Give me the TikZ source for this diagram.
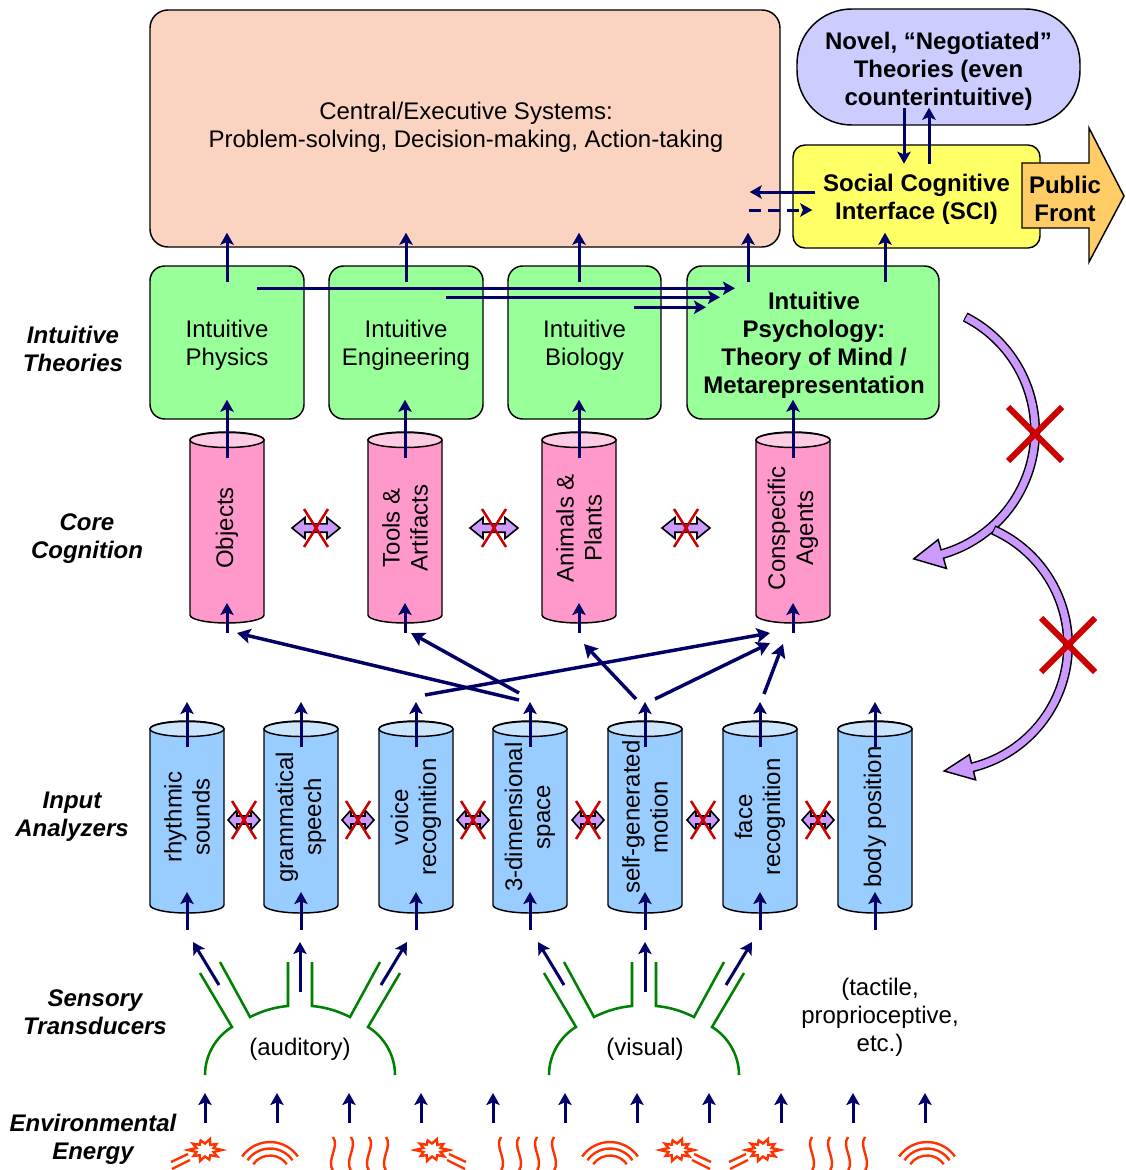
\documentclass[tikz,border=0pt]{standalone}
\usepackage{fontspec}
\setmainfont{Liberation Sans}
\usetikzlibrary{arrows.meta,calc}
\definecolor{navy}{RGB}{0,0,102}
\definecolor{peach}{RGB}{250,212,192}
\definecolor{novelc}{RGB}{204,204,255}
\definecolor{scic}{RGB}{255,255,102}
\definecolor{frontc}{RGB}{255,204,102}
\definecolor{greenc}{RGB}{153,255,153}
\definecolor{pinkc}{RGB}{255,153,204}
\definecolor{pinktop}{RGB}{255,204,229}
\definecolor{bluec}{RGB}{153,204,255}
\definecolor{bluetop}{RGB}{204,229,255}
\definecolor{lavc}{RGB}{204,153,255}
\definecolor{redx}{RGB}{204,0,0}
\definecolor{sensec}{RGB}{0,128,0}
\definecolor{energyc}{RGB}{255,51,0}

\newcommand\cylshape[5]{%
  \draw[line width=1.1pt, fill=#4] (#1-37,#2) -- (#1-37,#3) arc[start angle=180,end angle=0,x radius=37,y radius=8] -- (#1+37,#2) arc[start angle=0,end angle=-180,x radius=37,y radius=8] -- cycle;
  \draw[line width=1.1pt, fill=#5] (#1,#2) ellipse[x radius=37,y radius=7.5];}

\newcommand\nolink[5]{%
  \begin{scope}[shift={(#1,#2)}]
   \draw[line width=1.2pt, fill=lavc, line join=miter] (-#3,0) -- (-#3+#4,-#5) -- (-#3+#4,-0.4*#5) -- (#3-#4,-0.4*#5) -- (#3-#4,-#5) -- (#3,0) -- (#3-#4,#5) -- (#3-#4,0.4*#5) -- (-#3+#4,0.4*#5) -- (-#3+#4,#5) -- cycle;
   \draw[redx, line width=1.9pt] (-12,-19) -- (12,19) (-12,19) -- (12,-19);
  \end{scope}}

\newcommand\sensor[1]{%
  \draw[sense] (#1-95,1075) .. controls (#1-95,1054) and (#1-83,1036) .. (#1-68,1027) -- (#1-100,973);
  \draw[sense] (#1-80,962) -- (#1-50,1017) .. controls (#1-38,1011) and (#1-25,1007) .. (#1-12,1006) -- (#1-12,962);
  \draw[sense] (#1+80,962) -- (#1+50,1017) .. controls (#1+38,1011) and (#1+25,1007) .. (#1+12,1006) -- (#1+12,962);
  \draw[sense] (#1+95,1075) .. controls (#1+95,1054) and (#1+83,1036) .. (#1+68,1027) -- (#1+100,973);}

\newcommand\burst[3]{%
  \begin{scope}[shift={(#1,#2)}]
   \begin{scope}[yscale=0.72]
    \draw[energy, fill=white, line join=miter] (0:17) -- (18:9) -- (36:15) -- (54:9) -- (72:14) -- (90:9) -- (108:16) -- (126:9) -- (144:14) -- (162:9) -- (180:17) -- (198:9) -- (216:15) -- (234:9) -- (252:14) -- (270:9) -- (288:16) -- (306:9) -- (324:14) -- (342:9) -- cycle;
   \end{scope}
   \draw[energy] ({#3*17},4) -- ({#3*34},12) ({#3*15},10) -- ({#3*33},19);
  \end{scope}}

\newcommand\wavy[2]{%
  \draw[energy] (#1,1137) .. controls ({#1+#2},1147) and ({#1-#2},1159) .. (#1,1171);}

\newcommand\rays[1]{%
  \foreach \r in {34,27.5,20.5} \draw[energy] (#1,1176) ++(-145:\r) arc[start angle=-145,end angle=-35,radius=\r];}

\begin{document}
\begin{tikzpicture}[x=0.75pt,y=-0.75pt,
  lbl/.style={font=\fontsize{18}{21}\selectfont\bfseries\itshape, align=center, inner sep=0pt},
  txt/.style={font=\fontsize{18}{21}\selectfont, align=center, inner sep=0pt},
  btxt/.style={font=\fontsize{18}{21}\selectfont\bfseries, align=center, inner sep=0pt},
  gbox/.style={draw, line width=1.1pt, fill=greenc, rounded corners=11pt, minimum height=114.75pt, minimum width=#1},
  arr/.style={navy, line width=2.25pt, -{Stealth[length=9pt,width=10pt,inset=2pt]}},
  xarr/.style={navy, line width=2.6pt, -{Stealth[length=10pt,width=11pt,inset=2pt]}},
  sense/.style={sensec, line width=1.9pt},
  energy/.style={energyc, line width=1.8pt}]
\useasboundingbox (0,0) rectangle (1125,1170);

% ---- left labels
\node[lbl] (lt) at (73,349) {Intuitive\\Theories};
\node[lbl] (lc) at (87,539) {Core\\Cognition};
\node[lbl] (li) at (72,817) {Input\\Analyzers};
\node[lbl] (ls) at (95,1012) {Sensory\\Transducers};
\node[lbl] (le) at (93,1139) {Environmental\\Energy};

% ---- top boxes
\node[draw, line width=1.1pt, fill=peach, rounded corners=13.5pt, minimum width=472.5pt, minimum height=177.75pt] (central) at (465,128.5) {};
\node[txt] (centraltxt) at (466,127) {Central/Executive Systems:\\Problem-solving, Decision-making, Action-taking};
\node[draw, line width=1.1pt, fill=novelc, rounded corners=41pt, minimum width=212.25pt, minimum height=87pt] (novel) at (938.5,67) {};
\node[btxt] (noveltxt) at (938.5,71) {Novel, “Negotiated”\\Theories (even\\counterintuitive)};
\node[draw, line width=1.1pt, fill=scic, rounded corners=9pt, minimum width=185.25pt, minimum height=77.25pt] (sci) at (916.5,196.5) {};
\node[btxt] (scitxt) at (916.5,199.5) {Social Cognitive\\Interface (SCI)};
\draw[fill=frontc, line width=1.1pt, line join=miter] (1022,163) -- (1089,163) -- (1089,128) -- (1124,196) -- (1089,262) -- (1089,228) -- (1022,228) -- cycle;
\node[btxt] (front) at (1065,199) {Public\\Front};

% ---- intuitive theories
\node[gbox=115.5pt] (phys) at (227,342.5) {};
\node[gbox=115.5pt] (eng) at (406,342.5) {};
\node[gbox=114.75pt] (bio) at (584.5,342.5) {};
\node[gbox=189pt] (psych) at (813,342.5) {};
\node[txt] (physt) at (227,345.5) {Intuitive\\Physics};
\node[txt] (engt) at (406,345.5) {Intuitive\\Engineering};
\node[txt] (biot) at (584.5,345.5) {Intuitive\\Biology};
\node[btxt] (psycht) at (814,345.5) {Intuitive\\Psychology:\\Theory of Mind /\\Metarepresentation};

% ---- core cognition
\cylshape{227}{440}{615}{pinkc}{pinktop}
\cylshape{405}{440}{615}{pinkc}{pinktop}
\cylshape{579}{440}{615}{pinkc}{pinktop}
\cylshape{793}{440}{615}{pinkc}{pinktop}
\node[txt, rotate=90] (objects) at (227,528) {Objects};
\node[txt, rotate=90] (tools) at (405,528) {Tools \&\\Artifacts};
\node[txt, rotate=90] (animals) at (579,528) {Animals \&\\Plants};
\node[txt, rotate=90] (agents) at (793,528) {Conspecific\\Agents};
\nolink{316}{528}{24}{13}{10.5}
\nolink{494}{528}{24}{13}{10.5}
\nolink{686}{528}{24}{13}{10.5}

% ---- input analyzers
\cylshape{187}{729}{905}{bluec}{bluetop}
\cylshape{301}{729}{905}{bluec}{bluetop}
\cylshape{416}{729}{905}{bluec}{bluetop}
\cylshape{530}{729}{905}{bluec}{bluetop}
\cylshape{645}{729}{905}{bluec}{bluetop}
\cylshape{760}{729}{905}{bluec}{bluetop}
\cylshape{875}{729}{905}{bluec}{bluetop}
\node[txt, rotate=90] (rhythm) at (187,817) {rhythmic\\sounds};
\node[txt, rotate=90] (gram) at (301,817) {grammatical\\speech};
\node[txt, rotate=90] (voice) at (416,817) {voice\\recognition};
\node[txt, rotate=90] (space) at (530,817) {3-dimensional\\space};
\node[txt, rotate=90] (selfmot) at (645,817) {self-generated\\motion};
\node[txt, rotate=90] (face) at (760,817) {face\\recognition};
\node[txt, rotate=90] (body) at (875,817) {body position};
\foreach \xx in {244,358,473,588,703,818} {\nolink{\xx}{820}{16}{9}{10}}

% ---- sensory transducers
\sensor{300}
\sensor{644}
\node[txt] (aud) at (300,1049) {(auditory)};
\node[txt] (vis) at (645,1049) {(visual)};
\node[txt] (tact) at (880,1017) {(tactile,\\proprioceptive,\\etc.)};

% ---- arrows: theories to central / SCI
\foreach \n in {phys,eng} {\draw[arr] ($(\n.north)+(0,17)$) -- ($(\n.north |- central.south)+(0,-15)$);}
\draw[arr] ($(animals |- bio.north)+(0,17)$) -- ($(animals |- central.south)+(0,-15)$);
\draw[arr] ($(psych.north)+(-65,17)$) -- ($(psych.north |- central.south)+(-65,-15)$);
\draw[arr] ($(psych.north)+(72,17)$) -- ($(psych.north |- sci.south)+(72,-16)$);
\draw[arr] ($(phys.north)+(30,23)$) -- ($(psych.north)+(-78,23)$);
\draw[arr] ($(eng.north)+(40,32)$) -- ($(psych.north)+(-93,32)$);
\draw[arr] ($(bio.north)+(49.5,42)$) -- ($(psych.north)+(-107,42)$);
% SCI links
\draw[arr] ($(sci.west)+(23,-4.5)$) -- ($(central.east |- sci.west)+(-31,-4.5)$);
\draw[arr, dash pattern=on 9pt off 5.5pt] ($(central.east |- sci.west)+(-32,13.5)$) -- ($(sci.west)+(20,13.5)$);
\draw[arr] ($(novel.south)+(-34.5,-18)$) -- ($(novel.south)+(-34.5,38)$);
\draw[arr] ($(novel.south)+(-9.5,38)$) -- ($(novel.south)+(-9.5,-18)$);

% ---- core to theories, and into core
\draw[arr] ($(objects)+(0,-70)$) -- ($(objects |- phys.south)+(0,-20)$);
\draw[arr] ($(tools)+(0,-70)$) -- ($(tools |- eng.south)+(0,-20)$);
\draw[arr] ($(animals)+(0,-70)$) -- ($(animals |- bio.south)+(0,-20)$);
\draw[arr] ($(agents)+(0,-70)$) -- ($(agents |- psych.south)+(0,-20)$);
\foreach \n in {objects,tools,animals,agents} {\draw[arr] ($(\n)+(0,105)$) -- ($(\n)+(0,75)$);}

% ---- input analyzers arrows
\foreach \n in {rhythm,gram,voice,space,selfmot,face,body} {
  \draw[arr] ($(\n)+(0,-70)$) -- ($(\n)+(0,-115)$);
  \draw[arr] ($(\n)+(0,113)$) -- ($(\n)+(0,75)$);}
\draw[xarr] ($(space)+(-11,-117)$) -- ($(objects)+(10,105)$);
\draw[xarr] ($(space)+(-11,-124)$) -- ($(tools)+(6,105)$);
\draw[xarr] ($(voice)+(9,-122)$) -- ($(agents)+(-23,105)$);
\draw[xarr] ($(selfmot)+(-9,-118)$) -- ($(animals)+(5,116)$);
\draw[xarr] ($(selfmot)+(10,-118)$) -- ($(agents)+(-23,115)$);
\draw[xarr] ($(face)+(4,-123)$) -- ($(agents)+(-10,116)$);

% ---- sensory arrows
\foreach \n in {aud,vis} {
  \draw[arr] ($(\n)+(-81,-64)$) -- ($(\n)+(-107,-107)$);
  \draw[arr] ($(\n)+(0,-57)$) -- ($(\n)+(0,-107)$);
  \draw[arr] ($(\n)+(81,-64)$) -- ($(\n)+(107,-107)$);}

% ---- environmental energy
\foreach \i in {0,...,10} {\draw[arr] ({205+72*\i},1123) -- ({205+72*\i},1093);}
\burst{205}{1150}{-1}
\rays{270}
\foreach \xx in {333,351,369,386} {\wavy{\xx}{7}}
\burst{432}{1150}{1}
\foreach \xx in {501,519,537,554} {\wavy{\xx}{-7}}
\rays{610}
\burst{677}{1150}{1}
\burst{763}{1150}{-1}
\foreach \xx in {812,830,848,865} {\wavy{\xx}{-7}}
\rays{927}

% ---- big curved arrows
\coordinate (C1) at (907,431);
\draw[line width=7.5pt] (C1) ++(-63:128) arc[start angle=-63,end angle=75,radius=128];
\draw[line width=1.1pt, fill=lavc, line join=miter] ($(C1)+(74:143)$) -- ($(C1)+(87:128)$) -- ($(C1)+(74:113)$) -- cycle;
\draw[line width=5.25pt, lavc] (C1) ++(-62.5:128) arc[start angle=-62.5,end angle=75,radius=128];
\coordinate (C2) at (942,645);
\draw[line width=7.5pt] (C2) ++(-66:126) arc[start angle=-66,end angle=77,radius=126];
\draw[line width=1.1pt, fill=lavc, line join=miter] ($(C2)+(76:139)$) -- ($(C2)+(89:126)$) -- ($(C2)+(76:113)$) -- cycle;
\draw[line width=5.25pt, lavc] (C2) ++(-65.5:126) arc[start angle=-65.5,end angle=77,radius=126];
\draw[redx, line width=4.5pt] (1008,407) -- (1062,461) (1008,461) -- (1062,407);
\draw[redx, line width=4.5pt] (1041,618) -- (1095,672) (1041,672) -- (1095,618);
\end{tikzpicture}
\end{document}
